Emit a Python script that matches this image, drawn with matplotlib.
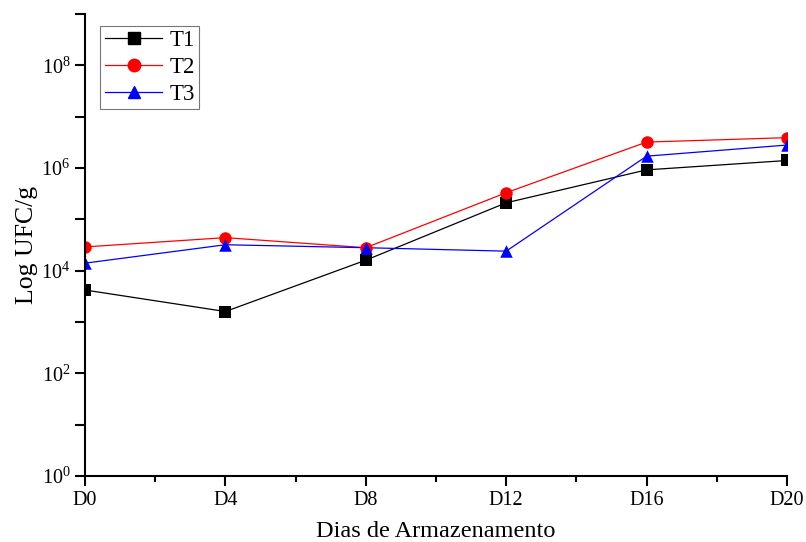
import matplotlib
matplotlib.use('Agg')
import matplotlib.pyplot as plt
import matplotlib.ticker as mticker
from matplotlib.lines import Line2D

# Dados
dias = [0, 4, 8, 12, 16, 20]
rotulos = ['D0', 'D4', 'D8', 'D12', 'D16', 'D20']
t1 = [4.2e3, 1.6e3, 1.6e4, 2.1e5, 9.2e5, 1.4e6]
t2 = [2.9e4, 4.4e4, 2.8e4, 3.3e5, 3.2e6, 3.9e6]
t3 = [1.4e4, 3.2e4, 2.8e4, 2.4e4, 1.7e6, 2.8e6]

plt.rcParams['font.family'] = 'Liberation Serif'
plt.rcParams['mathtext.fontset'] = 'custom'
plt.rcParams['mathtext.rm'] = 'Liberation Serif'
plt.rcParams['mathtext.it'] = 'Liberation Serif:italic'

fig = plt.figure(figsize=(8.06, 5.42), dpi=100)
ax = fig.add_axes([85/806, 1 - 476/542, (787-85)/806, (476-14)/542])

series = [
    (t1, 'black', 's', 8, 'T1'),
    (t2, 'red', 'o', 9, 'T2'),
    (t3, 'blue', '^', 9, 'T3'),
]
handles = []
for vals, cor, mk, ms, nome in series:
    ax.plot(dias, vals, color=cor, lw=0.9)
    # scatter para os marcadores serem cortados na borda do eixo
    ax.scatter(dias, vals, color=cor, marker=mk, s=ms**2, linewidths=0, zorder=3)
    handles.append(Line2D([], [], color=cor, lw=0.9, marker=mk, ms=ms, label=nome))

ax.set_yscale('log')
ax.set_ylim(1, 1e9)
ax.set_xlim(0, 20)
ax.yaxis.set_major_locator(mticker.FixedLocator([1, 1e2, 1e4, 1e6, 1e8]))
ax.yaxis.set_minor_locator(mticker.FixedLocator([1e1, 1e3, 1e5, 1e7, 1e9]))
ax.yaxis.set_minor_formatter(mticker.NullFormatter())
ax.yaxis.set_major_formatter(mticker.LogFormatterSciNotation())
ax.set_xticks(dias)
ax.set_xticklabels(rotulos)
ax.set_xticks([2, 6, 10, 14, 18], minor=True)

for s in ['top', 'right']:
    ax.spines[s].set_visible(False)
for s in ['left', 'bottom']:
    ax.spines[s].set_linewidth(1.5)
    ax.spines[s].set_zorder(4)

ax.tick_params(axis='both', which='major', direction='out', length=7, width=1.5, labelsize=14.5)
ax.tick_params(axis='both', which='minor', direction='out', length=4, width=1.5)
ax.tick_params(axis='y', which='minor', length=7)

ax.set_xlabel('Dias de Armazenamento', fontsize=17.5, labelpad=8)
ax.set_ylabel('Log UFC/g', fontsize=18.5, labelpad=2)

leg = ax.legend(handles=handles, loc='upper left', bbox_to_anchor=(0.022, 0.975), fontsize=16.5,
                frameon=True, fancybox=False, edgecolor='#555555',
                handlelength=2.5, borderpad=0.2, labelspacing=0.25, handletextpad=0.3,
                borderaxespad=0)
leg.get_frame().set_linewidth(0.8)

plt.savefig('out.png', dpi=100)
plt.close(fig)
